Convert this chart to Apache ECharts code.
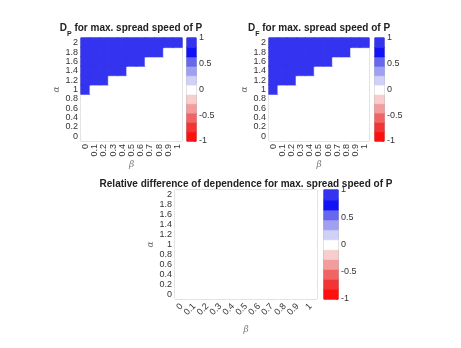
<!DOCTYPE html>
<html><head><meta charset="utf-8">
<script src="https://cdn.jsdelivr.net/npm/echarts@6/dist/echarts.min.js"></script>
<style>html,body{margin:0;padding:0;background:#fff}#c{width:461px;height:348px}</style>
</head><body><div id="c"></div>
<script>
// categories
const betaLabels = ['0','0.1','0.2','0.3','0.4','0.5','0.6','0.7','0.8','0.9','1'];
const alphaLabels = ['0','0.2','0.4','0.6','0.8','1','1.2','1.4','1.6','1.8','2'];
// values: rows from alpha = 0 (bottom) to alpha = 2 (top), columns beta 0..1
const dP = [
  [0,0,0,0,0,0,0,0,0,0,0],
  [0,0,0,0,0,0,0,0,0,0,0],
  [0,0,0,0,0,0,0,0,0,0,0],
  [0,0,0,0,0,0,0,0,0,0,0],
  [0,0,0,0,0,0,0,0,0,0,0],
  [1,0,0,0,0,0,0,0,0,0,0],
  [1,1,1,0,0,0,0,0,0,0,0],
  [1,1,1,1,1,0,0,0,0,0,0],
  [1,1,1,1,1,1,1,0,0,0,0],
  [1,1,1,1,1,1,1,1,1,0,0],
  [1,1,1,1,1,1,1,1,1,1,1]
];
const dF = [
  [0,0,0,0,0,0,0,0,0,0,0],
  [0,0,0,0,0,0,0,0,0,0,0],
  [0,0,0,0,0,0,0,0,0,0,0],
  [0,0,0,0,0,0,0,0,0,0,0],
  [0,0,0,0,0,0,0,0,0,0,0],
  [1,0,0,0,0,0,0,0,0,0,0],
  [1,1,1,0,0,0,0,0,0,0,0],
  [1,1,1,1,1,0,0,0,0,0,0],
  [1,1,1,1,1,1,1,0,0,0,0],
  [1,1,1,1,1,1,1,1,1,0,0],
  [1,1,1,1,1,1,1,1,1,1,1]
];
const relDiff = [
  [0,0,0,0,0,0,0,0,0,0,0],
  [0,0,0,0,0,0,0,0,0,0,0],
  [0,0,0,0,0,0,0,0,0,0,0],
  [0,0,0,0,0,0,0,0,0,0,0],
  [0,0,0,0,0,0,0,0,0,0,0],
  [0,0,0,0,0,0,0,0,0,0,0],
  [0,0,0,0,0,0,0,0,0,0,0],
  [0,0,0,0,0,0,0,0,0,0,0],
  [0,0,0,0,0,0,0,0,0,0,0],
  [0,0,0,0,0,0,0,0,0,0,0],
  [0,0,0,0,0,0,0,0,0,0,0]
];
// colormap levels from -1 (bottom) to 1 (top)
const levelColors = ['#ff1010','#f23434','#f06464','#f39c9c','#f8cdcd','#ffffff',
                     '#d0d0f8','#a0a0f2','#6767f0','#1212f6','#3434f0'];
const cbMin = -1, cbMax = 1;
const cbTickInterval = 0.5;

const FONT = 'Liberation Sans, Arial, sans-serif';
const TXT = '#333';
const nLev = levelColors.length;
const step = (cbMax - cbMin) / nLev;
function colorFor(v) {
  let i = Math.floor((v - cbMin) / step);
  if (i < 0) i = 0; if (i > nLev - 1) i = nLev - 1;
  return levelColors[i];
}
function item(x, y, v) {
  const c = colorFor(v);
  return { value: [x, y, v], itemStyle: { color: c, borderColor: c, borderWidth: 0.6 } };
}
const levelCats = levelColors.map((c, i) => String(i));
const levelData = levelColors.map((c, i) => item(0, i, cbMin + (i + 0.5) * step));

function toData(m) {
  const out = [];
  m.forEach((row, yi) => row.forEach((v, xi) => out.push(item(xi, yi, v))));
  return out;
}

const grids = [
  { left: 81, top: 38, width: 101, height: 103 },   // 0 D_P
  { left: 187, top: 38, width: 9, height: 103 },    // 1 cb
  { left: 269, top: 38, width: 100, height: 103 },  // 2 D_F
  { left: 375, top: 38, width: 9, height: 103 },    // 3 cb
  { left: 175, top: 190, width: 142, height: 109 }, // 4 rel
  { left: 324, top: 190, width: 14, height: 109 }   // 5 cb
].map(g => Object.assign({ show: true, borderColor: '#555', borderWidth: 0.8, backgroundColor: 'transparent' }, g));

const xAxes = [], yAxes = [], series = [];
const nameStyle = { fontFamily: 'DejaVu Serif, serif', fontStyle: 'italic', fontSize: 9, color: '#777' };
function addMain(gi, data, rot, nameGapX, nameGapY, labelMargin) {
  const xi = xAxes.length, yi = yAxes.length;
  xAxes.push({
    type: 'category', gridIndex: gi, data: betaLabels,
    name: 'β', nameLocation: 'middle', nameGap: nameGapX, nameTextStyle: nameStyle,
    axisLine: { show: false }, axisTick: { show: false }, splitLine: { show: false },
    axisLabel: { rotate: rot, fontSize: 9, fontFamily: FONT, color: TXT, margin: labelMargin, interval: 0 }
  });
  yAxes.push({
    type: 'category', gridIndex: gi, data: alphaLabels,
    name: 'α', nameLocation: 'middle', nameGap: nameGapY, nameRotate: 90, nameTextStyle: nameStyle,
    axisLine: { show: false }, axisTick: { show: false }, splitLine: { show: false },
    axisLabel: { fontSize: 9, fontFamily: FONT, color: TXT, margin: 3, interval: 0 }
  });
  series.push({ type: 'heatmap', xAxisIndex: xi, yAxisIndex: yi, data: toData(data) });
}
function addCb(gi) {
  const xi = xAxes.length, yi = yAxes.length;
  xAxes.push({ type: 'category', gridIndex: gi, data: ['c'], show: false });
  yAxes.push({ type: 'category', gridIndex: gi, data: levelCats, show: false });
  yAxes.push({
    type: 'value', gridIndex: gi, min: cbMin, max: cbMax, interval: cbTickInterval, position: 'right',
    axisLine: { show: false }, splitLine: { show: false },
    axisTick: { show: true, inside: true, length: 2, lineStyle: { color: '#555', width: 0.6 } },
    axisLabel: { fontSize: 9, fontFamily: FONT, color: TXT, margin: 3 }
  });
  series.push({ type: 'heatmap', xAxisIndex: xi, yAxisIndex: yi, data: levelData });
}
addMain(0, dP, 90, 19, 17, 3); addCb(1);
addMain(2, dF, 90, 19, 17, 3); addCb(3);
addMain(4, relDiff, 45, 26, 20, 6); addCb(5);

const titleStyle = {
  fontFamily: FONT, fontWeight: 'bold', fontSize: 10, color: '#222',
  rich: {
    m: { fontFamily: FONT, fontWeight: 'bold', fontSize: 10, color: '#222', lineHeight: 15, verticalAlign: 'top' },
    s: { fontFamily: FONT, fontWeight: 'bold', fontSize: 7, color: '#222', lineHeight: 15, verticalAlign: 'bottom' }
  }
};
const option = {
  animation: false,
  backgroundColor: '#fff',
  title: [
    { text: '{m|D}{s|P}{m| for max. spread speed of P}', left: 131, top: 23, textAlign: 'center', padding: 0, textStyle: titleStyle },
    { text: '{m|D}{s|F}{m| for max. spread speed of P}', left: 319, top: 23, textAlign: 'center', padding: 0, textStyle: titleStyle },
    { text: 'Relative difference of dependence for max. spread speed of P', left: 246, top: 179, textAlign: 'center', padding: 0,
      textStyle: { fontFamily: FONT, fontWeight: 'bold', fontSize: 10, color: '#222' } }
  ],
  grid: grids,
  xAxis: xAxes,
  yAxis: yAxes,
  series: series
};
const chart = echarts.init(document.getElementById('c'), null, { renderer: 'canvas' });
chart.setOption(option);
</script>
</body></html>
